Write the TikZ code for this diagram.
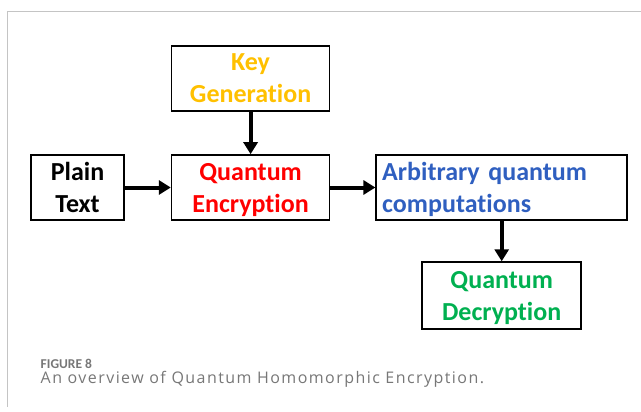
\documentclass[tikz,border=0pt]{standalone}
\usepackage{fontspec}
\setmainfont[Ligatures=NoCommon]{Carlito}
\newfontfamily\capfont[LetterSpace=9]{Open Sans}
\usetikzlibrary{positioning,arrows.meta}

\definecolor{keycol}{HTML}{FFC000}
\definecolor{enccol}{HTML}{FF0000}
\definecolor{compcol}{HTML}{2F5FC0}
\definecolor{deccol}{HTML}{00B050}
\definecolor{framecol}{HTML}{C4C4C4}
\definecolor{capcol}{HTML}{777777}

\begin{document}
\begin{tikzpicture}[%
		x=1pt, y=-1pt,
		qbox/.style={%
			draw,
			line width=1.6pt,
			minimum height=65pt,
			inner sep=4pt,
			text depth=0pt,
			align=center,
			font=\bfseries\fontsize{26}{32}\selectfont
		},
		link/.style={%
			draw,
			line width=4pt,
			-{Triangle[length=12pt,width=14pt]}
		}
		]
		\useasboundingbox (0,0) rectangle (641,412);
		\draw[framecol, line width=1pt] (641,12) -| (7,407);

		\node[qbox, minimum width=93pt] (1) at (77.5,187.5)                           {Plain\\Text};
		\node[qbox, minimum width=158pt, text=enccol] (2) [right=46pt of 1]          {Quantum\\Encryption};
		\node[qbox, minimum width=158pt, text=keycol] (3) [above=42.5pt of 2]        {Key\\Generation};
		\node[qbox, text width=239pt, text depth=32pt, inner sep=6pt, align=left, text=compcol] (4) [right=45pt of 2] {Arbitrary quantum\\computations};
		\node[qbox, minimum width=159pt, minimum height=67pt, text=deccol] (5) [below=40.5pt of 4] {Quantum\\Decryption};

		\path (1) edge[link] (2)
		(3) edge[link] (2)
		(2) edge[link] (4)
		(4) edge[link] (5);

		% caption
		\node[anchor=base west, text=capcol, inner sep=0pt, font=\bfseries\fontsize{13.5}{16}\selectfont] (fig) at (40.5,368) {FIGURE 8};
		\node[anchor=base west, text=capcol, inner sep=0pt, font=\capfont\fontsize{16}{19}\selectfont] (cap) at (40.5,383) {An overview of Quantum Homomorphic Encryption.};
\end{tikzpicture}
\end{document}
